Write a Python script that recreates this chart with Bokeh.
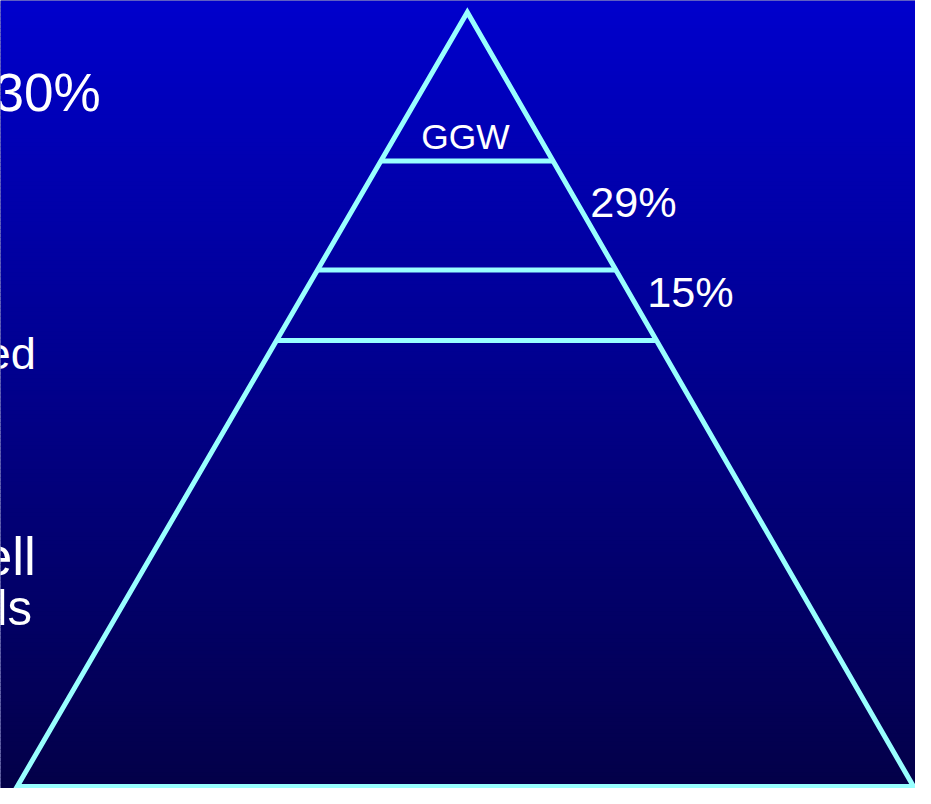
from bokeh.plotting import figure
from bokeh.models import Range1d
from bokeh.core.properties import value
from bokeh.embed import file_html
from bokeh.resources import INLINE

# ---- content ----
left_labels = ["30%", "ed", "ell", "ls"]
tier_labels = ["GGW", "29%", "15%"]
tier_fracs = [0.192, 0.333, 0.424]   # tier boundaries, fraction of pyramid height from apex

# ---- geometry (reference pixel space, y downward) ----
APEX = (475, 12)
BL = (17, 802)
BR = (929, 802)
LINE_COLOR = "#99FFFF"
FONT = value("Liberation Sans")
W, H = 915, 788
SC = W / 931.0


def px(v):
    return "%.1fpx" % (v * SC)


p = figure(width=W, height=H, output_backend="svg", toolbar_location=None,
           x_range=Range1d(0, 931), y_range=Range1d(804, 0),
           x_axis_location=None, y_axis_location=None, min_border=0)
p.grid.visible = False
p.outline_line_color = None
p.border_fill_color = None
p.background_fill_color = "#000080"

# background vertical gradient
N = 200
top_c = (0, 0, 204)
bot_c = (3, 0, 72)
tops, bots, cols = [], [], []
for i in range(N):
    t = i / (N - 1)
    c = tuple(int(round(a + (b - a) * t)) for a, b in zip(top_c, bot_c))
    tops.append(i * 804 / N)
    bots.append((i + 1) * 804 / N + 1.0)
    cols.append("#%02x%02x%02x" % c)
p.quad(left=0, right=931, top=tops, bottom=bots, fill_color=cols, line_color=None)

# pyramid outline
p.patch([APEX[0], BL[0], BR[0]], [APEX[1], BL[1], BR[1]],
        fill_color=None, line_color=LINE_COLOR, line_width=5, line_join="miter")

# tier lines
xs, ys = [], []
for f in tier_fracs:
    y = APEX[1] + f * (BL[1] - APEX[1])
    xl = APEX[0] + f * (BL[0] - APEX[0])
    xr = APEX[0] + f * (BR[0] - APEX[0])
    xs.append([xl, xr])
    ys.append([y, y])
p.multi_line(xs=xs, ys=ys, line_color=LINE_COLOR, line_width=5)

# left text (partially cut at the slide edge, as in the reference)
left_x = [102, 36, 36, 32]
left_y = [94, 360, 567, 620]
left_sz = [54, 46, 54, 50]
for t, x, y, s in zip(left_labels, left_x, left_y, left_sz):
    p.text(x=[x], y=[y], text=[t], text_font=FONT, text_font_size=px(s),
           text_color="white", text_align="right", text_baseline="middle")

# pyramid labels
p.text(x=[473], y=[139.5], text=[tier_labels[0]], text_font=FONT, text_font_size=px(36),
       text_color="white", text_align="center", text_baseline="middle")
p.text(x=[600, 658], y=[206, 297], text=tier_labels[1:], text_font=FONT,
       text_font_size=px(44), text_color="white", text_align="left",
       text_baseline="middle")

open("out.html", "w").write(file_html(p, INLINE))
